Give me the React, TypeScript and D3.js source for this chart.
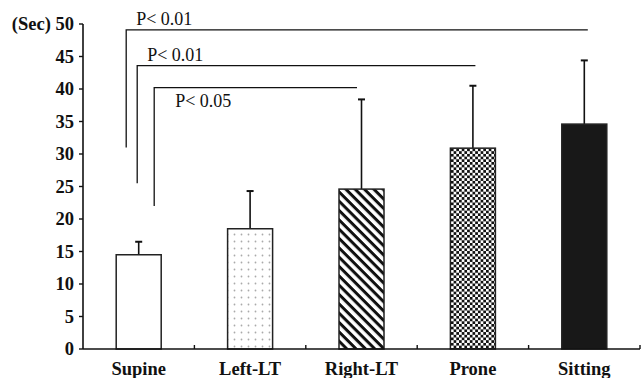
import React from "react";
import * as d3 from "d3";

const categories = ["Supine", "Left-LT", "Right-LT", "Prone", "Sitting"];
const means = [14.5, 18.5, 24.6, 30.9, 34.6];
const errors = [2.0, 5.8, 13.8, 9.6, 9.8];
const yTicks = [0, 5, 10, 15, 20, 25, 30, 35, 40, 45, 50];
const fills = ["#ffffff", "url(#dots)", "url(#stripes)", "url(#checks)", "#181818"];

const bracketFrom = [0, 0, 0];
const bracketTo = [4, 3, 2];
const bracketY = [49.1, 43.6, 40.2];
const bracketLegBottom = [31, 25.5, 22];
const bracketLabels = ["P< 0.01", "P< 0.01", "P< 0.05"];
const bracketLegOffset = [-12.5, -1.5, 15.5];
const bracketToOffset = [3.5, 2.5, -4.5];

export default function App() {
  const W = 641;
  const H = 378;
  const left = 83;
  const right = 640;
  const top = 24;
  const bottom = 349;
  const x = d3.scaleBand<string>().domain(categories).range([left, right]).paddingInner(0).paddingOuter(0);
  const y = d3.scaleLinear().domain([0, 50]).range([bottom, top]);
  const bw = 45;
  const serif = "'Liberation Serif', 'Times New Roman', serif";

  return (
    <svg width={W} height={H} style={{ position: "absolute", left: 0, top: 0 }}>
      <defs>
        <pattern id="dots" width="7" height="7" patternUnits="userSpaceOnUse">
          <rect width="7" height="7" fill="#fff" />
          <circle cx="3.5" cy="3.5" r="0.9" fill="#aaa" />
        </pattern>
        <pattern id="stripes" width="6.6" height="6.6" patternUnits="userSpaceOnUse" patternTransform="rotate(45)">
          <rect width="6.6" height="6.6" fill="#fff" />
          <rect x="0" y="0" width="6.6" height="3" fill="#111" />
        </pattern>
        <pattern id="checks" width="5.4" height="5.4" patternUnits="userSpaceOnUse">
          <rect width="5.4" height="5.4" fill="#fff" />
          <rect x="0" y="0" width="2.7" height="2.7" fill="#111" />
          <rect x="2.7" y="2.7" width="2.7" height="2.7" fill="#111" />
        </pattern>
      </defs>
      <rect width={W} height={H} fill="#fff" />

      {categories.map((c, i) => {
        const cx = (x(c) as number) + x.bandwidth() / 2;
        const yt = y(means[i]);
        const ye = y(means[i] + errors[i]);
        return (
          <g key={c}>
            <line x1={cx} x2={cx} y1={yt} y2={ye} stroke="#111" strokeWidth={1.6} />
            <line x1={cx - 3.5} x2={cx + 3.5} y1={ye} y2={ye} stroke="#111" strokeWidth={2} />
            <rect x={cx - bw / 2} y={yt} width={bw} height={bottom - yt} fill={fills[i]} stroke="#222" strokeWidth={1.5} />
          </g>
        );
      })}

      {bracketLabels.map((lab, i) => {
        const c0 = categories[bracketFrom[i]];
        const c1 = categories[bracketTo[i]];
        const x0 = (x(c0) as number) + x.bandwidth() / 2 + bracketLegOffset[i];
        const x1 = (x(c1) as number) + x.bandwidth() / 2 + bracketToOffset[i];
        const yb = y(bracketY[i]);
        const yl = y(bracketLegBottom[i]);
        const above = i < 2;
        return (
          <g key={i}>
            <path d={`M${x0},${yl}V${yb}H${x1}`} fill="none" stroke="#111" strokeWidth={1.3} />
            <text
              x={above ? x0 + 10 : x0 + 21}
              y={above ? yb - 5 : yb + 19}
              fontFamily={serif}
              fontSize={18}
              fill="#111"
            >
              {lab}
            </text>
          </g>
        );
      })}

      <line x1={left} x2={left} y1={top} y2={bottom} stroke="#111" strokeWidth={1.6} />
      {yTicks.map((t) => (
        <g key={t}>
          <line x1={left - 4} x2={left} y1={y(t)} y2={y(t)} stroke="#111" strokeWidth={1.4} />
          <text
            x={74}
            y={y(t) + 6}
            textAnchor="end"
            fontFamily={serif}
            fontWeight="bold"
            fontSize={18.5}
            fill="#111"
          >
            {t === 50 ? "(Sec) 50" : String(t)}
          </text>
        </g>
      ))}

      <line x1={left} x2={right} y1={bottom} y2={bottom} stroke="#111" strokeWidth={1.6} />
      {categories.map((c) => (
        <line key={c} x1={(x(c) as number) + x.bandwidth()} x2={(x(c) as number) + x.bandwidth()} y1={bottom} y2={bottom - 4} stroke="#111" strokeWidth={1.4} />
      ))}
      {categories.map((c) => (
        <text
          key={c}
          x={(x(c) as number) + x.bandwidth() / 2}
          y={375}
          textAnchor="middle"
          fontFamily={serif}
          fontWeight="bold"
          fontSize={18.5}
          fill="#111"
        >
          {c}
        </text>
      ))}
    </svg>
  );
}
